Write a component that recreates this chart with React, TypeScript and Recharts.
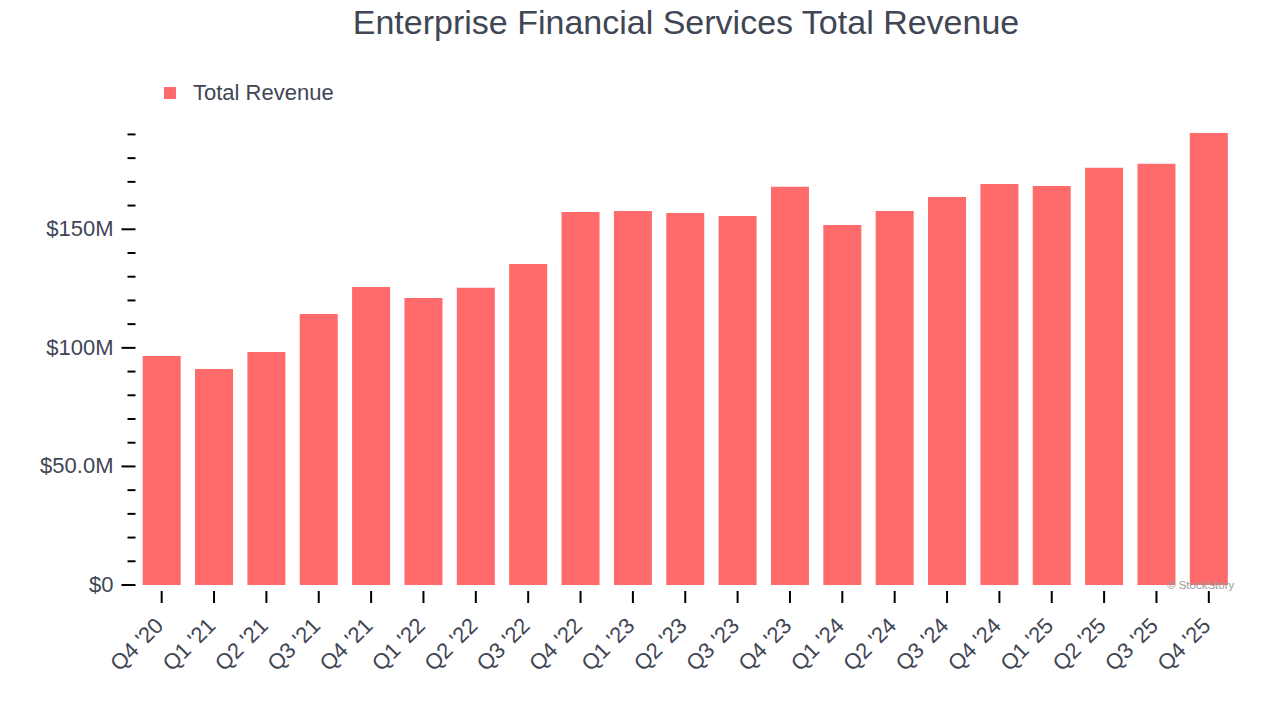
import React from 'react';
import { BarChart, Bar, XAxis, YAxis, Legend } from 'recharts';

// Quarterly total revenue, $M
const quarters = [
  "Q4 '20", "Q1 '21", "Q2 '21", "Q3 '21", "Q4 '21", "Q1 '22", "Q2 '22",
  "Q3 '22", "Q4 '22", "Q1 '23", "Q2 '23", "Q3 '23", "Q4 '23", "Q1 '24",
  "Q2 '24", "Q3 '24", "Q4 '24", "Q1 '25", "Q2 '25", "Q3 '25", "Q4 '25",
];
const revenue = [
  96.6, 91.1, 98.3, 114.3, 125.7, 121.0, 125.3, 135.4, 157.3, 157.7, 156.9,
  155.6, 167.9, 151.8, 157.7, 163.6, 169.1, 168.3, 175.9, 177.6, 190.6,
];
const yTicks = [0, 10, 20, 30, 40, 50, 60, 70, 80, 90, 100, 110, 120, 130, 140, 150, 160, 170, 180, 190];
const yLabels: Record<number, string> = { 0: '$0', 50: '$50.0M', 100: '$100M', 150: '$150M' };

const TEXT = '#3f4654';
const BAR = '#ff6b6b';
const FONT = '"Liberation Sans", Arial, sans-serif';

const data = quarters.map((q, i) => ({ quarter: q, revenue: revenue[i] }));

function YTick({ x, y, payload }: any) {
  const major = payload.value % 50 === 0;
  return (
    <g>
      <line x1={x - (major ? 14 : 8)} x2={x} y1={y} y2={y} stroke="#000" strokeWidth={2} />
      {major && (
        <text x={x - 22} y={y} dy={7} textAnchor="end" fontSize={22} fill={TEXT} fontFamily={FONT}>
          {yLabels[payload.value]}
        </text>
      )}
    </g>
  );
}

function XTick({ x, y, payload }: any) {
  const ax = x + 3;
  const ay = y + 42;
  return (
    <g>
      <line x1={x} x2={x} y1={y + 6} y2={y + 18} stroke="#000" strokeWidth={2} />
      <text
        x={ax}
        y={ay}
        textAnchor="end"
        fontSize={22}
        fill={TEXT}
        fontFamily={FONT}
        transform={`rotate(-45 ${ax} ${ay})`}
      >
        {payload.value}
      </text>
    </g>
  );
}

function LegendContent() {
  return (
    <div style={{ display: 'flex', alignItems: 'center', height: 26, fontFamily: FONT, fontSize: 22, color: TEXT }}>
      <span style={{ width: 12, height: 12, background: BAR, display: 'inline-block', marginRight: 17 }} />
      Total Revenue
    </div>
  );
}

export default function App() {
  return (
    <div style={{ position: 'absolute', top: 0, left: 0, width: 1280, height: 720, background: '#fff' }}>
      <div
        style={{
          position: 'absolute', top: 3, left: 46, width: 1280, textAlign: 'center',
          fontFamily: FONT, fontSize: 34, color: TEXT,
        }}
      >
        Enterprise Financial Services Total Revenue
      </div>
      <BarChart
        width={1280}
        height={720}
        data={data}
        margin={{ top: 107, right: 45, left: 0, bottom: 0 }}
        barCategoryGap="13.7%"
      >
        <Legend
          verticalAlign="top"
          align="left"
          height={26}
          content={<LegendContent />}
          wrapperStyle={{ top: 80, left: 164, width: 300 }}
        />
        <XAxis
          dataKey="quarter"
          height={135}
          interval={0}
          tickLine={false}
          axisLine={false}
          tickSize={0}
          tickMargin={0}
          tick={<XTick />}
        />
        <YAxis
          width={135.5}
          domain={[0, 'dataMax']}
          ticks={yTicks}
          interval={0}
          tickLine={false}
          axisLine={false}
          tickSize={0}
          tickMargin={0}
          tick={<YTick />}
        />
        <Bar dataKey="revenue" name="Total Revenue" fill={BAR} isAnimationActive={false} />
      </BarChart>
      <div
        style={{
          position: 'absolute', left: 1167, top: 579, fontFamily: FONT, fontSize: 11.5,
          color: '#9a9a9a', whiteSpace: 'nowrap',
        }}
      >
        © StockStory
      </div>
    </div>
  );
}
